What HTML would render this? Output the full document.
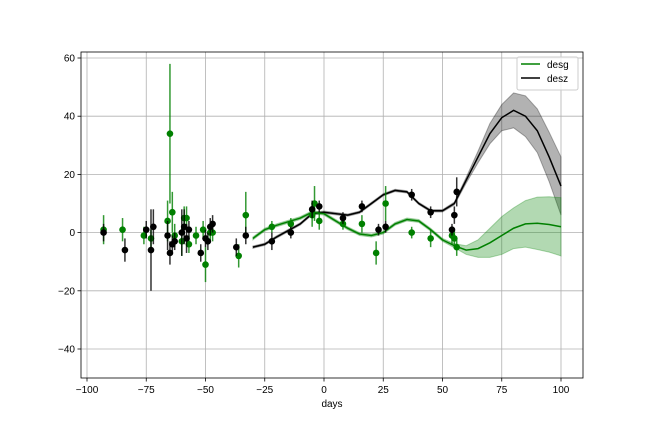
<!DOCTYPE html>
<html><head><meta charset="utf-8"><style>
body{margin:0;background:#fff;font-family:"Liberation Sans",sans-serif}
svg text{font-family:"Liberation Sans",sans-serif;font-size:10px;fill:#000}
</style></head><body>
<svg id="c" width="648" height="432"></svg>
<script>
const days=[-30,-25,-20,-10,-5,0,5,10,15,20,25,30,35,40,45,50,55,60,65,70,75,80,85,90,95,100];
const desgLine=[-2,1,2.5,5,7,6.5,4,1.5,-0.5,-1,0,3,4.5,4,1,-2.5,-4.5,-6,-5.5,-3.5,-1,1.5,3,3.2,2.8,2];
const desgErr=[0.5,0.5,0.5,0.5,0.5,0.5,0.5,0.5,0.5,0.5,0.5,0.5,0.5,0.5,0.5,0.5,0.7,1.5,3,5,6.5,7,8,9,9.5,10];
const deszLine=[-5,-4,-1.5,3,6.5,7,6.5,6,7,10,13,14.5,14,10,7.5,7.5,10,18,26,34,39.5,42,40,35,26,16];
const deszErr=[0.4,0.4,0.4,0.4,0.4,0.4,0.4,0.4,0.4,0.4,0.4,0.4,0.4,0.4,0.4,0.4,0.5,1,2,3.5,4.5,6,7,7.5,8.5,10];
const gX=[-93,-85,-76,-73,-66,-65,-64,-63,-60,-59,-58,-57,-54,-51,-50,-48,-47,-36,-33,-22,-14,-5,-4,-2,8,16,22,26,37,45,54,55,56];
const gY=[1,1,-1,-2,4,34,7,-1,-3,5,5,-4,-1,1,-11,0,0,-8,6,2,3,6,10,4,3,3,-7,10,0,-2,-1,-2,-5];
const gE=[5,4,3,3,7,24,7,4,5,4,4,3,3,3,6,3,3,4,8,2,2,4,6,3,2,3,4,6,2,3,3,3,3];
const kX=[-93,-84,-75,-73,-72,-66,-65,-64,-63,-60,-59,-58,-57,-52,-50,-49,-48,-47,-37,-33,-22,-14,-5,-2,8,16,23,26,37,45,54,55,56];
const kY=[0,-6,1,-6,2,-1,-7,-4,-3,0,2,-2,1,-7,-2,-3,2,3,-5,-1,-3,0,8,9,5,9,1,2,13,7,1,6,14];
const kE=[3,4,3,14,6,5,4,3,3,8,6,5,3,3,3,3,3,3,3,3,3,2,3,2,2,2,2,2,2,2,2,3,5];
const xTicks=[-100,-75,-50,-25,0,25,50,75,100];
const yTicks=[-40,-20,0,20,40,60];
const L=81,R=583,T=52,B=378;
const X=d=>324+d*2.37, Y=v=>232.6-v*2.91;
const s=document.getElementById('c'),NS='http://www.w3.org/2000/svg';
function el(t,a,p){const e=document.createElementNS(NS,t);for(const k in a)e.setAttribute(k,a[k]);(p||s).appendChild(e);return e;}
xTicks.forEach(t=>{const g=el('line',{x1:X(t),x2:X(t),y1:T,y2:B,stroke:'#b0b0b0','stroke-width':0.8});

el('line',{x1:X(t),x2:X(t),y1:B,y2:B+3.5,stroke:'#000','stroke-width':0.8});
const tx=el('text',{x:X(t),y:B+15,'text-anchor':'middle'});tx.textContent=t===0?'0':(t<0?'\u2212'+(-t):t);
});
yTicks.forEach(t=>{const g=el('line',{x1:L,x2:R,y1:Y(t),y2:Y(t),stroke:'#b0b0b0','stroke-width':0.8});

el('line',{x1:L-3.5,x2:L,y1:Y(t),y2:Y(t),stroke:'#000','stroke-width':0.8});
const tx=el('text',{x:L-6,y:Y(t)+3.5,'text-anchor':'end'});tx.textContent=t<0?'\u2212'+(-t):t;
});
function band(line,err,col,name){let up=days.map((d,i)=>X(d)+','+Y(line[i]+err[i]));let dn=days.map((d,i)=>X(d)+','+Y(line[i]-err[i])).reverse();
const p=el('polygon',{points:up.concat(dn).join(' '),fill:col,'fill-opacity':0.3,stroke:col,'stroke-opacity':0.3});
}
function line(v,col,name){const p=el('polyline',{points:days.map((d,i)=>X(d)+','+Y(v[i])).join(' '),fill:'none',stroke:col,'stroke-width':1.5});
}
band(deszLine,deszErr,'#000','desz-band');band(desgLine,desgErr,'green','desg-band');
line(deszLine,'#000','desz-line');line(desgLine,'green','desg-line');
function pts(xs,ys,es,col,name){xs.forEach((d,i)=>{el('line',{x1:X(d),x2:X(d),y1:Y(ys[i]+es[i]),y2:Y(ys[i]-es[i]),stroke:col,'stroke-width':1.5,'stroke-opacity':0.8});
const c=el('circle',{cx:X(d),cy:Y(ys[i]),r:3.3,fill:col});});}
pts(gX,gY,gE,'green','desg-point');pts(kX,kY,kE,'#000','desz-point');
const ax=el('rect',{x:L,y:T,width:R-L,height:B-T,fill:'none',stroke:'#000','stroke-width':0.8});

const xl=el('text',{x:332,y:407,'text-anchor':'middle'});xl.textContent='days';

const lg=el('g',{});
el('rect',{x:517,y:57,width:61,height:33,rx:2,fill:'#fff','fill-opacity':0.8,stroke:'#ccc'},lg);
[['desg','green',68],['desz','#000',82]].forEach(([n,c,y])=>{
el('line',{x1:521,x2:540,y1:y-4,y2:y-4,stroke:c,'stroke-width':1.5},lg);
const t=el('text',{x:547,y:y},lg);t.textContent=n;});
</script>
</body></html>
